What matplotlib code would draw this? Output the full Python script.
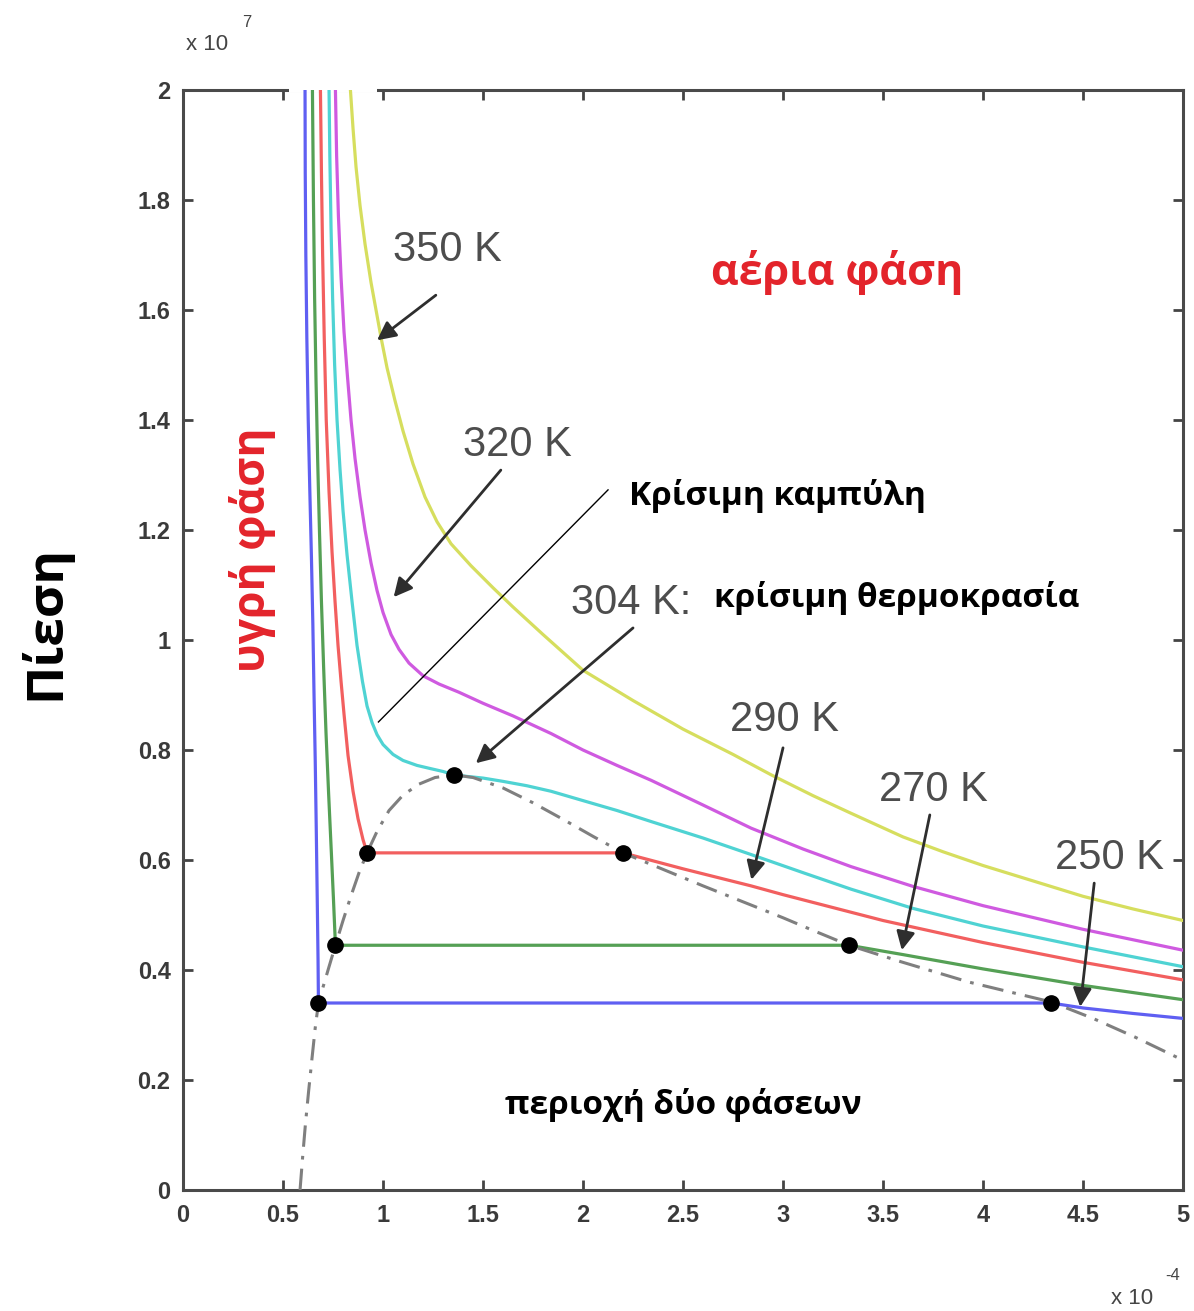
import matplotlib.pyplot as plt

plt.rcParams['font.family'] = ['Liberation Sans', 'DejaVu Sans']

# Isotherms of CO2: molar volume in 1e-4 m^3/mol, pressure in 1e7 Pa
temps = [250, 270, 290, 304, 320, 350]
colors = ['#5f5ff2', '#55a055', '#f25f5f', '#4fd3d3', '#cf5ae0', '#d6de5e']

v_250 = [0.61, 0.611, 0.614, 0.619, 0.626, 0.634, 0.642, 0.649, 0.655, 0.661,
         0.666, 0.671, 0.675, 0.677, 4.34, 4.5, 4.75, 5.0]
p_250 = [2.0, 1.85, 1.7, 1.55, 1.4, 1.27, 1.15, 1.03, 0.9, 0.78,
         0.66, 0.53, 0.42, 0.34, 0.34, 0.331, 0.321, 0.312]

v_270 = [0.647, 0.652, 0.658, 0.665, 0.673, 0.682, 0.692, 0.703, 0.715, 0.728,
         0.742, 0.752, 0.762, 3.33, 3.6, 4.0, 4.5, 5.0]
p_270 = [2.0, 1.8, 1.62, 1.47, 1.33, 1.2, 1.07, 0.95, 0.83, 0.72,
         0.61, 0.53, 0.445, 0.445, 0.428, 0.402, 0.372, 0.346]

v_290 = [0.687, 0.692, 0.698, 0.706, 0.716, 0.73, 0.745, 0.76, 0.775, 0.79,
         0.805, 0.825, 0.85, 0.875, 0.90, 0.92,
         2.2, 2.5, 2.84, 3.0, 3.5, 4.0, 4.5, 5.0]
p_290 = [2.0, 1.85, 1.7, 1.55, 1.4, 1.27, 1.16, 1.07, 0.99, 0.925,
         0.865, 0.79, 0.725, 0.675, 0.637, 0.613,
         0.613, 0.584, 0.553, 0.537, 0.49, 0.45, 0.414, 0.382]

v_304 = [0.73, 0.734, 0.74, 0.748, 0.758, 0.77, 0.785, 0.80, 0.82, 0.845,
         0.87, 0.897, 0.92, 0.945, 0.97, 1.0, 1.05, 1.1, 1.17, 1.24, 1.3,
         1.353, 1.42, 1.5, 1.6, 1.72, 1.84, 2.0, 2.17, 2.34, 2.6, 2.84, 3.1,
         3.34, 3.65, 4.0, 4.5, 5.0]
p_304 = [2.0, 1.88, 1.75, 1.62, 1.5, 1.4, 1.31, 1.235, 1.155, 1.07,
         0.99, 0.925, 0.88, 0.85, 0.828, 0.81, 0.792, 0.781, 0.772, 0.766, 0.761,
         0.755, 0.752, 0.749, 0.743, 0.735, 0.725, 0.708, 0.69, 0.67, 0.64, 0.61, 0.577,
         0.547, 0.512, 0.48, 0.442, 0.406]

v_320 = [0.762, 0.768, 0.777, 0.79, 0.805, 0.822, 0.84, 0.86, 0.885, 0.91,
         0.94, 0.97, 1.0, 1.04, 1.08, 1.13, 1.2, 1.28, 1.38, 1.5, 1.65, 1.84,
         2.0, 2.17, 2.34, 2.6, 2.84, 3.1, 3.34, 3.65, 4.0, 4.5, 5.0]
p_320 = [2.0, 1.88, 1.77, 1.66, 1.56, 1.48, 1.40, 1.33, 1.26, 1.20,
         1.14, 1.09, 1.05, 1.01, 0.983, 0.958, 0.935, 0.92, 0.905, 0.885, 0.862, 0.83,
         0.80, 0.772, 0.745, 0.70, 0.658, 0.62, 0.588, 0.552, 0.517, 0.474, 0.436]

v_350 = [0.837, 0.85, 0.865, 0.885, 0.91, 0.94, 0.97, 0.99, 1.02, 1.06, 1.1,
         1.15, 1.21, 1.27, 1.34, 1.44, 1.55, 1.65, 1.8, 2.0, 2.25, 2.5, 2.75,
         2.94, 3.15, 3.34, 3.6, 3.8, 4.0, 4.25, 4.5, 4.75, 5.0]
p_350 = [2.0, 1.93, 1.86, 1.79, 1.72, 1.65, 1.59, 1.55, 1.495, 1.435, 1.38,
         1.32, 1.26, 1.215, 1.175, 1.135, 1.095, 1.06, 1.01, 0.945, 0.89, 0.838, 0.792,
         0.755, 0.717, 0.685, 0.642, 0.615, 0.59, 0.562, 0.534, 0.511, 0.49]

volumes = [v_250, v_270, v_290, v_304, v_320, v_350]
pressures = [p_250, p_270, p_290, p_304, p_320, p_350]

# ends of the liquid-vapour plateaus and the critical point
sat_p = [0.34, 0.445, 0.613]
sat_v_liq = [0.677, 0.762, 0.92]
sat_v_vap = [4.34, 3.33, 2.2]
crit_v = 1.353
crit_p = 0.755

# coexistence (saturation) curve
dome_v = [0.585, 0.598, 0.612, 0.628, 0.645, 0.661, 0.677, 0.70, 0.73, 0.762,
          0.80, 0.84, 0.88, 0.92, 0.97, 1.03, 1.1, 1.18, 1.26, 1.353,
          1.45, 1.6, 1.75, 1.9, 2.05, 2.2, 2.4, 2.6, 2.8, 3.0, 3.15, 3.33,
          3.59, 3.93, 4.34, 4.55, 4.76, 5.0]
dome_p = [0.0, 0.06, 0.12, 0.18, 0.24, 0.295, 0.34, 0.369, 0.406, 0.445,
          0.49, 0.535, 0.577, 0.613, 0.652, 0.69, 0.718, 0.738, 0.75, 0.755,
          0.75, 0.731, 0.704, 0.674, 0.643, 0.613, 0.583, 0.553, 0.524, 0.495, 0.472, 0.445,
          0.415, 0.378, 0.342, 0.312, 0.278, 0.236]

xticks = [0, 0.5, 1, 1.5, 2, 2.5, 3, 3.5, 4, 4.5, 5]
yticks = [0, 0.2, 0.4, 0.6, 0.8, 1, 1.2, 1.4, 1.6, 1.8, 2]

# temperature labels: text position, arrow start and arrow tip
label_pos = [(4.632, 0.604), (3.754, 0.727), (3.008, 0.855),
             (2.24, 1.067), (1.674, 1.355), (1.323, 1.709)]
arrow_from = [(4.556, 0.558), (3.734, 0.682), (3.0, 0.804),
              (2.25, 1.022), (1.589, 1.309), (1.264, 1.627)]
arrow_to = [(4.486, 0.333), (3.594, 0.436), (2.842, 0.564),
            (1.464, 0.776), (1.053, 1.078), (0.97, 1.545)]

fig = plt.figure(figsize=(11.94, 13.11), dpi=100)
ax = fig.add_axes([0.1533, 0.0923, 0.8375, 0.839])

for v, p, c in zip(volumes, pressures, colors):
    ax.plot(v, p, color=c, lw=2.3, zorder=3)

ax.plot(dome_v, dome_p, color='#7f7f7f', lw=2.2, ls=(0, (7, 3, 1.2, 3)), zorder=3)

ax.plot(sat_v_liq + sat_v_vap + [crit_v], sat_p + sat_p + [crit_p],
        ls='none', marker='o', color='black', ms=11, zorder=5)

greek = ['Open Sans', 'DejaVu Sans']
for t, (lx, ly), a0, a1 in zip(temps, label_pos, arrow_from, arrow_to):
    name = f'{t} K:' if t == 304 else f'{t} K'
    ax.text(lx, ly, name, fontsize=30, color='#4d4d4d', ha='center', va='center',
            bbox=dict(fc='white', ec='none', pad=2), zorder=6)
    ax.annotate('', xy=a1, xytext=a0, zorder=7,
                arrowprops=dict(arrowstyle='-|>', color='#2e2e2e', lw=2,
                                mutation_scale=28, shrinkA=0, shrinkB=0))

# pointer line for the critical isotherm
ax.plot([0.977, 2.125], [0.851, 1.273], color='black', lw=1.0, zorder=4)

ax.text(3.273, 1.669, 'αέρια φάση', family=greek, fontsize=31, fontweight='bold',
        color='#e3242b', ha='center', va='center',
        bbox=dict(fc='white', ec='none', pad=2), zorder=6)
ax.text(0.346, 1.164, 'υγρή φάση', family=greek, fontsize=32, fontweight='bold',
        color='#e3242b', ha='center', va='center', rotation=90, zorder=6)
ax.text(2.23, 1.262, 'Κρίσιμη καμπύλη', family=greek, fontsize=24, fontweight='bold',
        color='black', ha='left', va='center', zorder=6)
ax.text(2.657, 1.076, 'κρίσιμη θερμοκρασία', family=greek, fontsize=24,
        fontweight='bold', color='black', ha='left', va='center', zorder=6)
ax.text(2.501, 0.155, 'περιοχή δύο φάσεων', family=greek, fontsize=24,
        fontweight='bold', color='black', ha='center', va='center', zorder=6)
fig.text(0.0377, 0.5255, 'Πίεση', family=greek, fontsize=37, fontweight='bold',
         color='black', ha='center', va='center', rotation=90)

# axis scale factors
fig.text(0.1734, 0.9664, 'x 10', fontsize=16, color='#444444', ha='center', va='center')
fig.text(0.207, 0.9825, '7', fontsize=12, color='#444444', ha='center', va='center')
fig.text(0.948, 0.0099, 'x 10', fontsize=16, color='#444444', ha='center', va='center')
fig.text(0.982, 0.0267, '-4', fontsize=12, color='#444444', ha='center', va='center')

ax.set_xlim(0, 5)
ax.set_ylim(0, 2)
ax.set_xticks(xticks)
ax.set_yticks(yticks)
ax.set_xticklabels([f'{t:g}' for t in xticks], fontweight='bold')
ax.set_yticklabels([f'{t:g}' for t in yticks], fontweight='bold')
ax.tick_params(direction='in', top=True, right=True, length=7, width=2,
               color='#444444', labelsize=17, labelcolor='#3a3a3a')
ax.tick_params(axis='x', pad=10)
ax.tick_params(axis='y', pad=9)
for s in ax.spines.values():
    s.set_linewidth(2.2)
    s.set_color('#4a4a4a')

# break in the top frame line where the steep branches leave the box
ax.plot([0.53, 0.97], [2, 2], color='white', lw=4, solid_capstyle='butt',
        clip_on=False, zorder=2.6)

fig.savefig('out.png', dpi=100)
